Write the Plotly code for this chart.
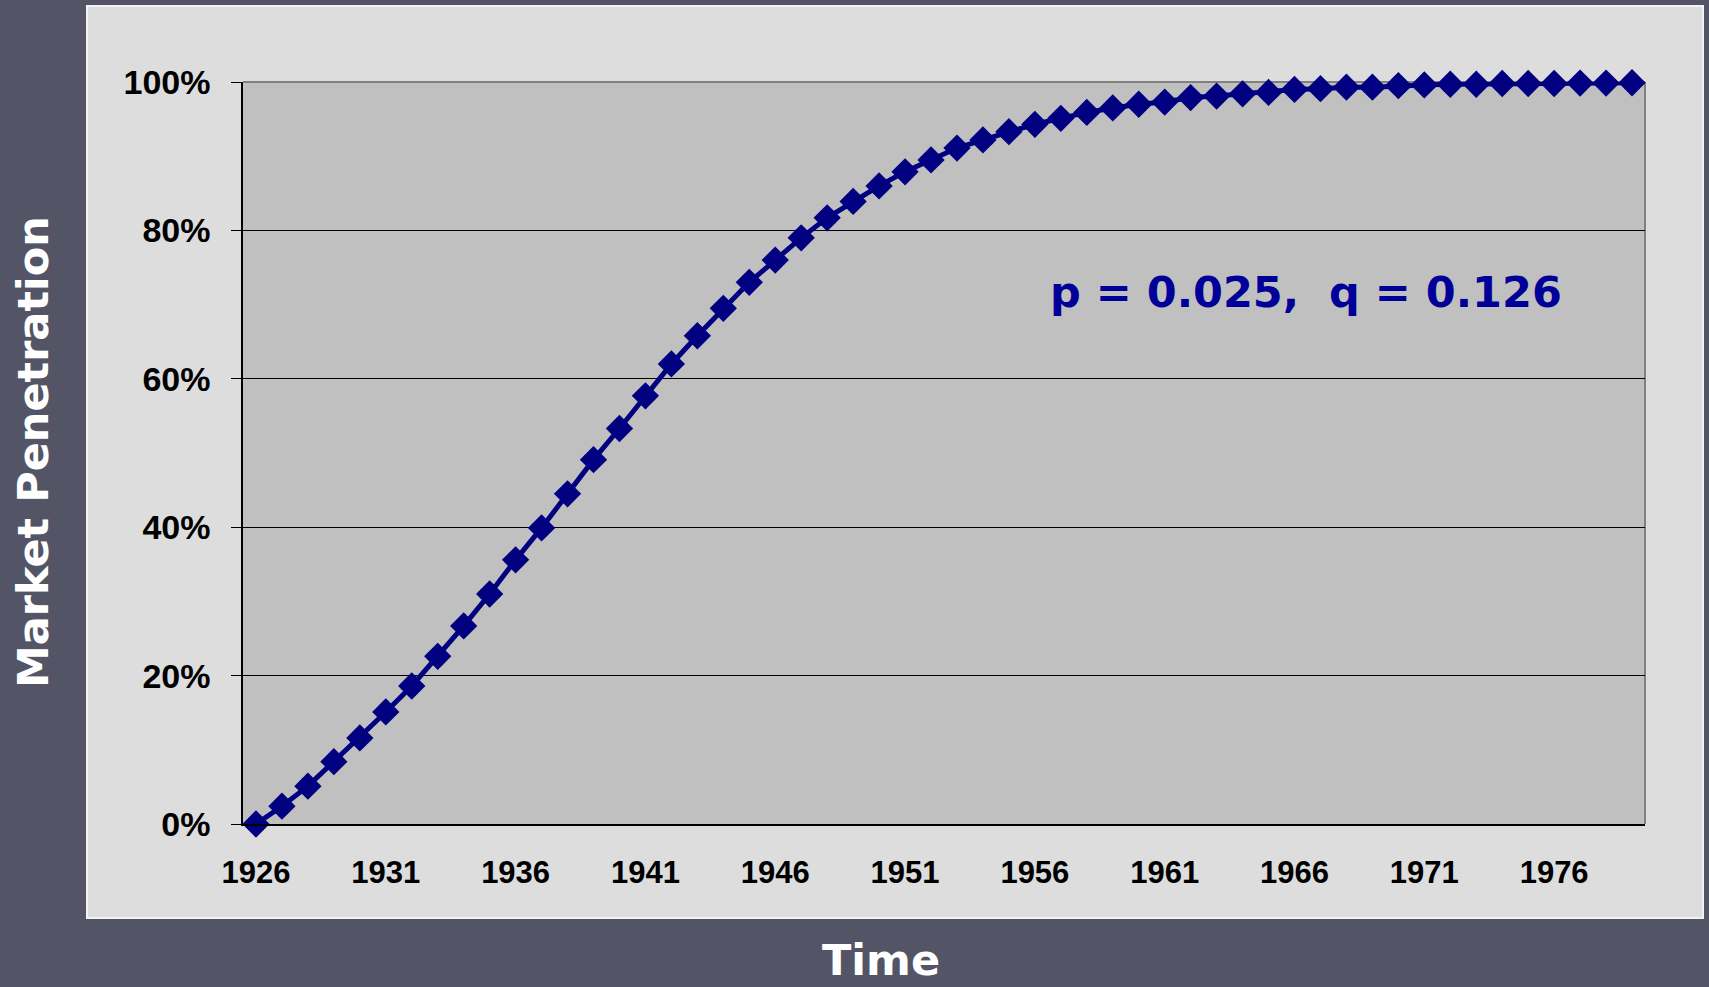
import plotly.graph_objects as go

# ---- data ----
years = list(range(1926, 1980))
penetration = [
    0.000, 0.024, 0.051, 0.084, 0.116, 0.151, 0.186, 0.226, 0.267, 0.310,
    0.356, 0.399, 0.445, 0.491, 0.533, 0.577, 0.620, 0.658, 0.695, 0.730,
    0.760, 0.790, 0.817, 0.839, 0.860, 0.879, 0.895, 0.911, 0.922, 0.933,
    0.943, 0.951, 0.959, 0.965, 0.970, 0.973, 0.979, 0.981, 0.984, 0.986,
    0.990, 0.991, 0.993, 0.993, 0.995, 0.996, 0.997, 0.997, 0.998, 0.998,
    0.998, 0.9985, 0.9985, 0.999,
]
x_tick_years = [1926, 1931, 1936, 1941, 1946, 1951, 1956, 1961, 1966, 1971, 1976]
y_tick_vals = [0, 0.2, 0.4, 0.6, 0.8, 1.0]
y_tick_text = ["0%", "20%", "40%", "60%", "80%", "100%"]
y_title = "Market Penetration"
x_title = "Time"
param_text = "p = 0.025,&nbsp; q = 0.126"

W, H = 1709, 987
NAVY = "#000080"

fig = go.Figure()
fig.add_trace(go.Scatter(
    x=years, y=penetration, mode="lines+markers",
    line=dict(color=NAVY, width=5),
    marker=dict(symbol="diamond", size=21, color=NAVY),
    cliponaxis=False, showlegend=False, hoverinfo="skip",
))

x_range = [years[0] - 0.5, years[-1] + 0.5]
x_dom = [243 / W, 1645 / W]

fig.update_layout(
    width=W, height=H,
    margin=dict(l=0, r=0, t=0, b=0, autoexpand=False),
    paper_bgcolor="#535567",
    plot_bgcolor="#C0C0C0",
    xaxis=dict(
        domain=x_dom, range=x_range, automargin=False,
        tickmode="array", tickvals=x_tick_years,
        ticktext=[str(v) for v in x_tick_years],
        ticks="", ticklabelstandoff=20,
        showgrid=False, zeroline=False,
        showline=True, linecolor="black", linewidth=1.5,
        tickfont=dict(family="Liberation Sans, Arial", size=31, color="black", weight="bold"),
    ),
    xaxis2=dict(
        overlaying="x", anchor="y", matches="x", automargin=False,
        domain=x_dom, range=x_range,
        tickmode="array", tickvals=[v - 0.5 for v in x_tick_years],
        ticks="outside", ticklen=10, tickcolor="black", tickwidth=1,
        showticklabels=False, showgrid=False, zeroline=False, showline=False,
    ),
    yaxis=dict(
        domain=[(H - 824) / H, (H - 82) / H], range=[0, 1], automargin=False,
        tickmode="array", tickvals=y_tick_vals, ticktext=y_tick_text,
        ticks="outside", ticklen=10, tickcolor="black", tickwidth=1,
        ticklabelstandoff=14,
        showgrid=True, gridcolor="black", gridwidth=1,
        zeroline=False, showline=True, linecolor="black", linewidth=1.5,
        tickfont=dict(family="Liberation Sans, Arial", size=34, color="black", weight="bold"),
    ),
    shapes=[
        # light chart panel
        dict(type="rect", xref="paper", yref="paper", layer="below",
             x0=87 / W, x1=1703 / W, y0=(H - 918) / H, y1=(H - 6) / H,
             fillcolor="#DDDDDD", line=dict(color="#F2F2F2", width=2)),
        # plot area fill
        dict(type="rect", xref="x domain", yref="y domain", layer="below",
             x0=0, x1=1, y0=0, y1=1, fillcolor="#C0C0C0", line=dict(width=0)),
        # gray plot-area border (top and right)
        dict(type="line", xref="x domain", yref="y domain", x0=0, x1=1, y0=1, y1=1,
             line=dict(color="#808080", width=2), layer="below"),
        dict(type="line", xref="x domain", yref="y domain", x0=1, x1=1, y0=0, y1=1,
             line=dict(color="#808080", width=2), layer="below"),
    ],
    annotations=[
        dict(text=param_text, xref="paper", yref="paper", x=1306 / W, y=(H - 292) / H,
             xanchor="center", yanchor="middle", showarrow=False,
             font=dict(family="DejaVu Sans", size=43, color="#000099", weight="bold")),
        dict(text=y_title, xref="paper", yref="paper", x=33 / W, y=(H - 452) / H,
             xanchor="center", yanchor="middle", showarrow=False, textangle=-90,
             font=dict(family="DejaVu Sans", size=43, color="white", weight="bold")),
        dict(text=x_title, xref="paper", yref="paper", x=881 / W, y=(H - 960) / H,
             xanchor="center", yanchor="middle", showarrow=False,
             font=dict(family="DejaVu Sans", size=43, color="white", weight="bold")),
    ],
)

fig.write_html("out.html")
